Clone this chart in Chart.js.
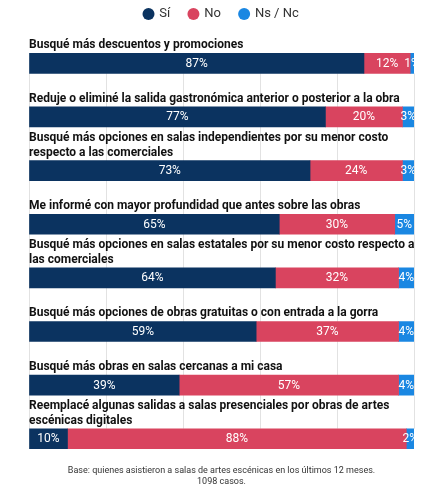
<!DOCTYPE html>
<html>
<head>
<meta charset="utf-8">
<script src="https://cdn.jsdelivr.net/npm/chart.js@4.4.1/dist/chart.umd.min.js"></script>
<style>
  body { margin: 0; background: #fff; }
</style>
</head>
<body>
<canvas id="myCanvas" width="445" height="495"></canvas>
<script>
const categories = [
    ["Busqué más descuentos y promociones"],
    ["Reduje o eliminé la salida gastronómica anterior o posterior a la obra"],
    ["Busqué más opciones en salas independientes por su menor costo", "respecto a las comerciales"],
    ["Me informé con mayor profundidad que antes sobre las obras"],
    ["Busqué más opciones en salas estatales por su menor costo respecto a", "las comerciales"],
    ["Busqué más opciones de obras gratuitas o con entrada a la gorra"],
    ["Busqué más obras en salas cercanas a mi casa"],
    ["Reemplacé algunas salidas a salas presenciales por obras de artes", "escénicas digitales"]
];
const seriesNames = ["Sí", "No", "Ns / Nc"];
const si = [87, 77, 73, 65, 64, 59, 39, 10];
const no = [12, 20, 24, 30, 32, 37, 57, 88];
const nsnc = [1, 3, 3, 5, 4, 4, 4, 2];
const gridTicks = [0, 20, 40, 60, 80, 100];
const footer = [
    "Base: quienes asistieron a salas de artes escénicas en los últimos 12 meses.",
    "1098 casos."
];

const colors = ["#0b3360", "#d9445f", "#1a87e2"];

Chart.defaults.font.family = "Roboto";

const canvas = document.getElementById("myCanvas");
const ctx = canvas.getContext("2d");

// grid lines, row titles above bars and % labels inside bars
const rowLabels = {
    id: "rowLabels",
    beforeDatasetsDraw(chart) {
        const c = chart.ctx;
        const bars = chart.getDatasetMeta(0).data;
        const first = bars[0], last = bars[bars.length - 1];
        const top = first.y + first.height / 2;
        const bottom = last.y - last.height / 2;
        c.save();
        c.strokeStyle = "#e2e2e2";
        c.lineWidth = 1;
        gridTicks.forEach(t => {
            const x = Math.round(chart.scales.x.getPixelForValue(t)) + 0.5;
            c.beginPath();
            c.moveTo(x, top);
            c.lineTo(x, bottom);
            c.stroke();
        });
        c.restore();
    },
    afterDatasetsDraw(chart) {
        const c = chart.ctx;
        const area = chart.chartArea;
        const bars = chart.getDatasetMeta(0).data;
        c.save();
        c.font = "bold 12px Roboto";
        c.fillStyle = "#111";
        c.textAlign = "left";
        c.textBaseline = "alphabetic";
        bars.forEach((el, i) => {
            const lines = categories[i];
            const barTop = el.y - el.height / 2;
            lines.forEach((line, k) => {
                const y = barTop - 5 - (lines.length - 1 - k) * 14.5;
                c.fillText(line, area.left, y);
            });
        });
        c.restore();

        c.save();
        c.beginPath();
        c.rect(area.left, area.top, area.right - area.left, area.bottom - area.top);
        c.clip();
        c.font = "12px Roboto";
        c.fillStyle = "#fff";
        c.textAlign = "center";
        c.textBaseline = "middle";
        chart.data.datasets.forEach((ds, d) => {
            chart.getDatasetMeta(d).data.forEach((el, i) => {
                const cx = (el.x + el.base) / 2;
                c.fillText(ds.data[i] + "%", cx, el.y + 0.5);
            });
        });
        c.restore();
    }
};

const chart = new Chart(ctx, {
    type: "bar",
    data: {
        labels: categories,
        datasets: [
            { label: seriesNames[0], data: si, backgroundColor: colors[0] },
            { label: seriesNames[1], data: no, backgroundColor: colors[1] },
            { label: seriesNames[2], data: nsnc, backgroundColor: colors[2] }
        ]
    },
    options: {
        indexAxis: "y",
        responsive: false,
        animation: false,
        datasets: {
            bar: { barThickness: 20, borderWidth: 0 }
        },
        layout: {
            padding: { top: -11.5, left: 29, right: 31, bottom: 0 }
        },
        scales: {
            x: {
                stacked: true,
                min: 0,
                max: 100,
                position: "top",
                ticks: { display: false },
                border: { display: false },
                grid: {
                    drawOnChartArea: false,
                    drawTicks: true,
                    tickLength: 6,
                    color: "rgba(0,0,0,0)"
                }
            },
            y: { stacked: true, display: false }
        },
        plugins: {
            tooltip: { enabled: false },
            legend: {
                display: true,
                position: "top",
                labels: {
                    usePointStyle: true,
                    pointStyle: "circle",
                    boxWidth: 8.5,
                    boxHeight: 8.5,
                    padding: 19,
                    color: "#333",
                    font: { size: 13 }
                }
            },
            title: {
                display: true,
                position: "bottom",
                text: footer,
                color: "#333",
                font: { size: 9, weight: "normal", lineHeight: 1.22 },
                padding: { top: 0, bottom: 7.5 }
            }
        }
    },
    plugins: [rowLabels]
});
</script>
</body>
</html>
